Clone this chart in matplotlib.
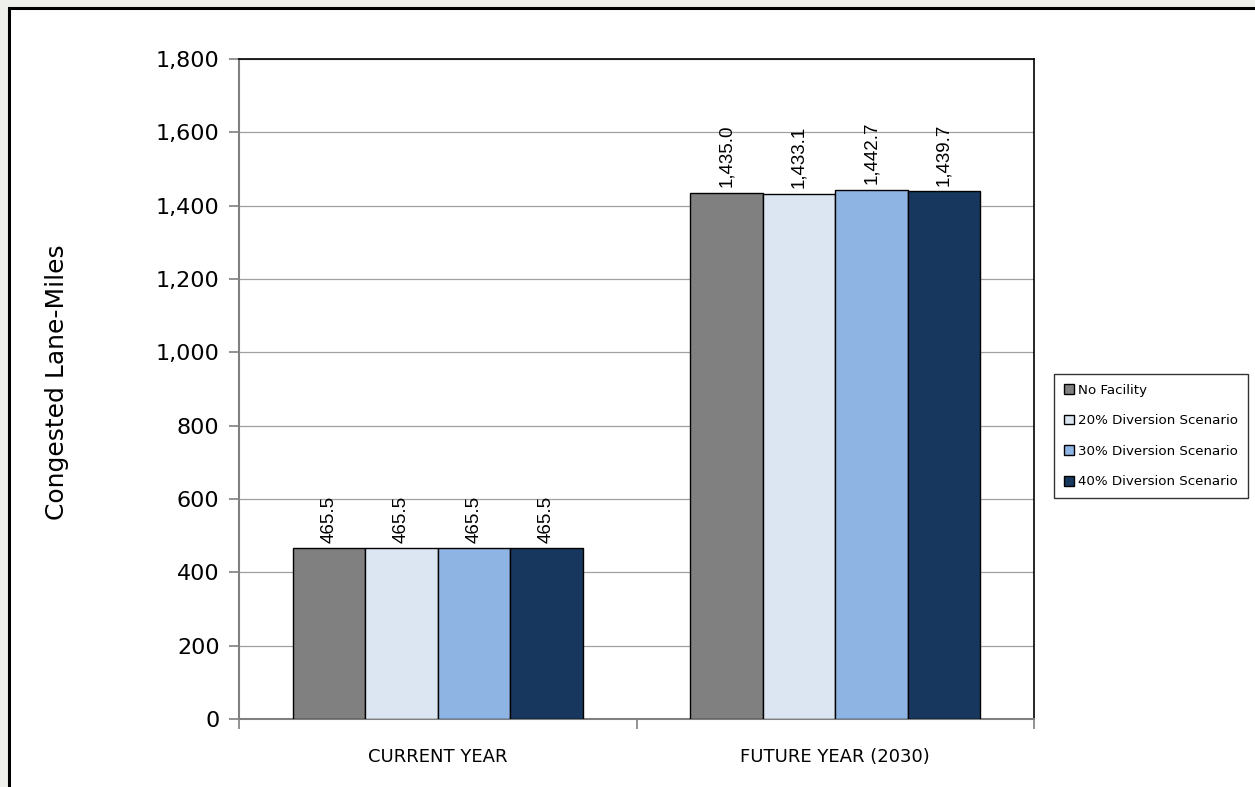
import matplotlib
matplotlib.use("Agg")
import matplotlib.pyplot as plt
from matplotlib.patches import Rectangle
import numpy as np

categories = ["CURRENT YEAR", "FUTURE YEAR (2030)"]
series_names = ["No Facility", "20% Diversion Scenario", "30% Diversion Scenario", "40% Diversion Scenario"]
no_facility = [465.5, 1435.0]
div20 = [465.5, 1433.1]
div30 = [465.5, 1442.7]
div40 = [465.5, 1439.7]
series_values = [no_facility, div20, div30, div40]
colors = ["#808080", "#DCE6F2", "#8EB4E3", "#17375E"]
yticks = [0, 200, 400, 600, 800, 1000, 1200, 1400, 1600, 1800]

W, H = 1255, 787
fig = plt.figure(figsize=(W / 100, H / 100), dpi=100)
fig.patch.set_facecolor("#efefeb")
# white panel with black border
fig.patches.append(Rectangle((9 / W, -0.01), 1.1, (H - 8) / H + 0.01, transform=fig.transFigure,
                             facecolor="white", edgecolor="black", linewidth=2.2, zorder=-5))

ax = fig.add_axes([239 / W, (H - 719) / H, (1034 - 239) / W, (719 - 59) / H])
ax.set_facecolor("white")

x = np.arange(len(categories))
bw = 0.1824
for i, (name, vals, c) in enumerate(zip(series_names, series_values, colors)):
    pos = x + (i - 1.5) * bw
    ax.bar(pos, vals, width=bw, color=c, edgecolor="black", linewidth=1.0, label=name, zorder=3)
    for px, v in zip(pos, vals):
        ax.annotate(f"{v:,.1f}", (px, v), xytext=(0, 4), textcoords="offset points",
                    rotation=90, ha="center", va="bottom", fontsize=13.5,
                    family="Liberation Sans", zorder=4)

ax.set_xlim(-0.5, 1.5)
ax.set_ylim(0, 1800)
ax.set_yticks(yticks)
ax.set_yticklabels([f"{t:,}" for t in yticks], fontsize=16, family="DejaVu Sans")
ax.yaxis.grid(True, color="#a0a0a0", linewidth=0.9, zorder=0)
ax.set_axisbelow(True)

ax.set_xticks([-0.5, 0.5, 1.5])
ax.set_xticklabels([])
ax.set_xticks(x, minor=True)
ax.set_xticklabels(categories, minor=True, fontsize=13, family="DejaVu Sans")
ax.tick_params(axis="x", which="minor", length=0, pad=21)
ax.tick_params(axis="x", which="major", length=7, color="#808080", width=1.2)
ax.tick_params(axis="y", length=7, color="#808080", width=1.2, pad=7)

for s in ["left", "bottom"]:
    ax.spines[s].set_color("#808080")
    ax.spines[s].set_linewidth(1.5)
for s in ["top", "right"]:
    ax.spines[s].set_color("black")
    ax.spines[s].set_linewidth(1.2)

fig.text(57 / W, 1 - 382 / H, "Congested Lane-Miles", rotation=90, ha="center", va="center",
         fontsize=18, family="DejaVu Sans")

leg = fig.legend(loc="upper left", bbox_to_anchor=(1054 / W, (H - 374) / H), frameon=True,
                 prop={"family": "DejaVu Sans", "size": 9.6}, handlelength=0.75,
                 handleheight=0.75, handletextpad=0.35, labelspacing=1.32, borderpad=0.72,
                 borderaxespad=0, fancybox=False, edgecolor="black")
leg.get_frame().set_linewidth(1.0)

fig.savefig("out.png", dpi=100, facecolor=fig.get_facecolor())
